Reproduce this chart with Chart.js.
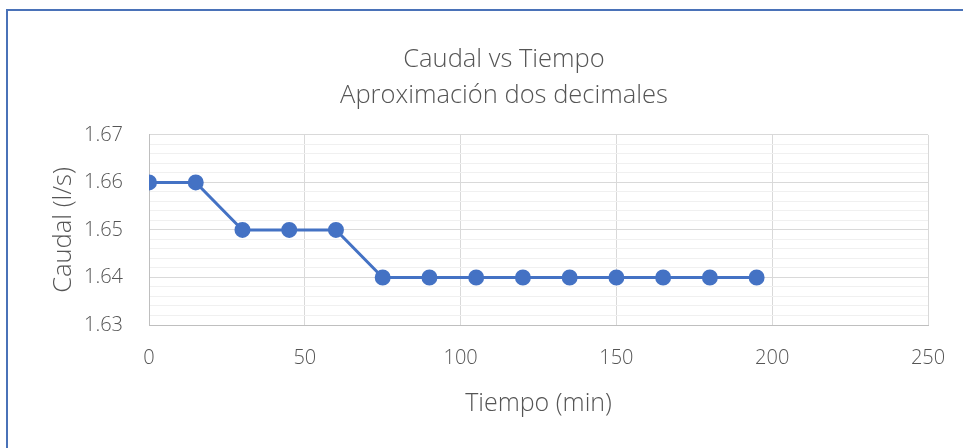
<!DOCTYPE html>
<html>
<head>
<meta charset="utf-8">
<script src="https://cdn.jsdelivr.net/npm/chart.js@4"></script>
<style>
  html, body { margin: 0; padding: 0; background: #fff; overflow: hidden; }
  #wrap { position: relative; width: 963px; height: 448px; }
  #frame { position: absolute; left: 6px; top: 9px; width: 1000px; height: 500px;
           border-left: 2px solid #4a72b8; border-top: 2px solid #4a72b8; }
  canvas { position: absolute; left: 0; top: 0; }
</style>
</head>
<body>
<div id="wrap">
  <div id="frame"></div>
  <canvas id="chart" width="963" height="448"></canvas>
</div>
<script>
// Tiempo (min) y caudal medido (l/s), redondeado a dos decimales
const tiempo = [0, 15, 30, 45, 60, 75, 90, 105, 120, 135, 150, 165, 180, 195];
const caudal = [1.66, 1.66, 1.65, 1.65, 1.65, 1.64, 1.64, 1.64, 1.64, 1.64, 1.64, 1.64, 1.64, 1.64];

const titulo = ['Caudal vs Tiempo', 'Aproximación dos decimales'];
const ejeX = 'Tiempo (min)';
const ejeY = 'Caudal (l/s)';

const textColor = '#555555';
const fontFamily = "'Open Sans', sans-serif";
const isMajor = v => Math.round(v * 1000) % 10 === 0;

// left padding keeps the title centred on the frame; the y axis box is widened back out
const padLeft = 80;
const plotLeft = 149;

Chart.defaults.animation = false;
Chart.defaults.font.family = fontFamily;
Chart.defaults.color = textColor;

const ctx = document.getElementById('chart').getContext('2d');
new Chart(ctx, {
    type: 'line',
    data: {
        datasets: [{
            data: tiempo.map((t, i) => ({ x: t, y: caudal[i] })),
            borderColor: '#4472c4',
            backgroundColor: '#4472c4',
            borderWidth: 3,
            pointRadius: 6.5,
            pointHoverRadius: 6.5,
            tension: 0
        }]
    },
    options: {
        responsive: false,
        layout: { padding: { left: padLeft, right: 35, top: 0, bottom: 0 } },
        plugins: {
            legend: { display: false },
            tooltip: { enabled: false },
            title: {
                display: true,
                text: titulo,
                color: textColor,
                font: { size: 25.5, weight: '300', lineHeight: 1.41 },
                padding: { top: 42, bottom: 21 }
            }
        },
        scales: {
            x: {
                type: 'linear',
                min: 0,
                max: 250,
                ticks: { stepSize: 50, padding: 21, font: { size: 20, weight: '300' } },
                grid: { color: '#d9d9d9', drawTicks: false },
                border: { color: '#bfbfbf', width: 1 },
                title: { display: true, text: ejeX, font: { size: 25, weight: '300' }, padding: { top: 0, bottom: 29 } },
                afterFit: s => { s.height = 448 - 325; s.paddingRight = 0; }
            },
            y: {
                min: 1.63,
                max: 1.67,
                ticks: {
                    stepSize: 0.002,
                    autoSkip: false,
                    padding: 26,
                    font: { size: 20, weight: '300' },
                    callback: v => isMajor(v) ? v.toFixed(2) : ''
                },
                grid: {
                    drawTicks: false,
                    color: c => isMajor(c.tick.value) ? '#d9d9d9' : '#f0f0f0'
                },
                border: { color: '#bfbfbf', width: 1 },
                title: { display: true, text: ejeY, font: { size: 25.5, weight: '300' }, padding: { top: 63 - padLeft - 15, bottom: 0 } },
                afterFit: s => { s.width = plotLeft - padLeft; }
            }
        }
    }
});
</script>
</body>
</html>
